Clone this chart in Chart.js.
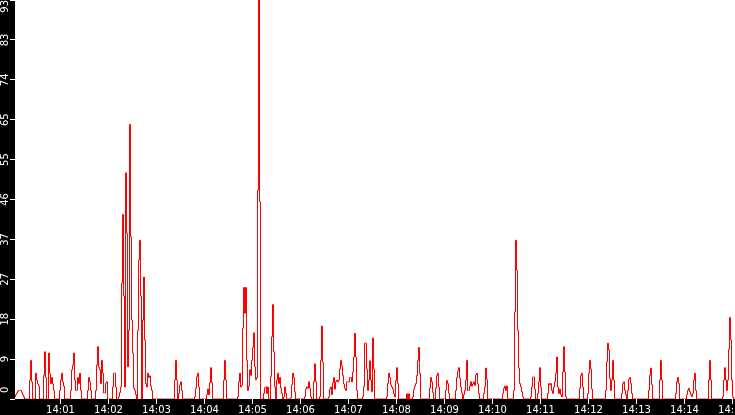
<!DOCTYPE html>
<html>
<head>
<meta charset="utf-8">
<script src="https://cdn.jsdelivr.net/npm/chart.js@4.4.1/dist/chart.umd.min.js"></script>
<style>
  html, body { margin: 0; padding: 0; background: #000; }
  canvas { display: block; }
</style>
</head>
<body>
<canvas id="grafica" width="735" height="415"></canvas>
<script>
// valores por minuto (una muestra cada 1.25 s)
var m00 = [0, 0, 0.5, 1, 1.4, 1.8, 2, 2, 2, 1.5,
           1, 0.5, 0, 0, 0, 0, 0, 4.4, 9, 4,
           0, 0, 0, 6, 4.4, 3.5, 3, 0, 0, 0,
           0, 5.5, 11, 5, 0, 0, 10.7, 6, 3.6, 5,
           3.5, 2, 0, 0, 0, 0, 0, 2];
var m01 = [4.4, 6, 4, 3, 0, 0, 0, 0, 0, 0,
           2, 6.8, 7.9, 10.7, 4.4, 2, 2, 5, 3.6, 6,
           2, 0, 0, 0, 0, 0, 0, 2, 5, 4,
           2, 0, 0, 0, 0, 2, 7.9, 12.2, 7.4, 6.8,
           3.6, 9, 6, 1.4, 1.4, 3.7, 4, 0];
var m02 = [0, 0, 0, 0, 2.8, 6, 6, 2.8, 0, 0,
           0.5, 1.5, 2.8, 27, 43, 24, 2.8, 52.7, 38.7, 7.5,
           16, 64, 37.8, 18.4, 10.7, 2.5, 2, 1, 0, 16,
           32.4, 37, 24, 0, 18.4, 28.4, 13.7, 3.6, 2.8, 6,
           5, 5.4, 3, 2, 0, 0, 0, 0];
var m03 = [0, 0, 0, 0, 0, 0, 0, 0, 0, 0,
           0, 0, 0, 0, 0, 0, 0, 0, 4.4, 9,
           4.4, 0, 1.3, 3.3, 4, 2, 0, 0, 0, 0,
           0, 0, 0, 0, 0, 0, 0, 0, 0.5, 2.5,
           5.2, 6, 2.8, 0, 0, 0, 0, 0];
var m04 = [0, 0, 1, 2.3, 1, 3.8, 7.3, 3.8, 0, 0,
           0, 0, 0, 0, 0, 0, 0, 0, 0, 4.4,
           9, 4.4, 0, 0, 0, 0, 0, 0, 0, 0,
           0, 0, 0, 0.5, 4, 6, 2.8, 3.2, 16.5, 26,
           20, 26, 9, 2, 3, 6.8, 5.5, 9];
var m05 = [12, 15.4, 7.5, 4.5, 5, 48.7, 93, 46, 0, 0,
           0, 1.3, 2.6, 2.8, 1.3, 2.8, 0, 0, 5.2, 14.5,
           22, 11, 2.8, 0, 4.4, 6, 3.6, 5, 2.6, 1.3,
           0, 0.5, 2.8, 1.3, 0, 0, 0, 0, 0.3, 3.3,
           6, 5, 1.7, 0, 0, 0, 0, 0];
var m06 = [0, 0, 0, 0, 0.5, 2.3, 2.8, 2.5, 4, 2.5,
           0.5, 0, 0, 4, 8.2, 4, 0, 0, 0, 0.5,
           9, 17, 8.5, 0, 0, 0, 0, 0, 0.5, 2.3,
           2.8, 1, 3.8, 5, 2.3, 4, 4.4, 4, 4.4, 7,
           9, 7.7, 5.5, 3.5, 2.5, 2, 4, 4];
var m07 = [4, 5, 5, 4, 6.3, 9.8, 15.3, 9.8, 2, 0,
           0, 0, 0, 0, 0.5, 2.8, 13, 13, 7, 2,
           4.4, 8.9, 4.4, 1.7, 14.2, 7, 0, 0, 0, 0,
           0, 0, 0, 0, 0, 0, 0, 0, 0.5, 3.6,
           6, 5, 3.3, 2.8, 2.3, 1.2, 0.5, 4.3];
var m08 = [7.3, 3.6, 0, 0, 0, 0, 0, 0, 0, 0,
           1.2, 0, 1.2, 0, 0, 0, 0.5, 2.3, 3, 3.6,
           5.5, 9, 12, 6, 0, 0, 0, 0, 0, 0,
           0, 0, 0, 2.5, 5, 4, 1.5, 0, 0, 2.5,
           5.5, 6, 2.8, 0, 0, 0, 0, 0];
var m09 = [0, 2, 4.3, 3.6, 1.3, 0, 0, 0, 0, 0,
           0, 2, 5, 6.5, 7.3, 4.8, 2.8, 1.4, 0, 1,
           2, 4.4, 9, 2, 2, 3, 4, 3, 3.5, 4,
           3.2, 5.6, 6, 3.5, 1.3, 0, 0, 0, 0, 1.3,
           2.8, 7.2, 4.6, 0, 0, 0, 0, 0];
var m10 = [0, 0, 0, 0, 0, 0, 0, 0, 0, 0,
           1.3, 2.5, 3, 2, 3, 0, 0, 0, 0, 0,
           0, 2, 20.3, 37, 30, 16, 7.2, 3.6, 2.8, 1.7,
           0.5, 0, 0, 0, 0, 0, 0, 0, 0.5, 2.8,
           5.1, 5.1, 2.3, 0, 0, 1.3, 4, 7.3];
var m11 = [2.8, 0, 0, 0, 0, 0, 0, 1.3, 3.6, 3.3,
           3.6, 2, 1.3, 2.8, 4, 6, 9.8, 2.8, 1.3, 2.3,
           1, 0.5, 6.3, 12.2, 6.3, 0.5, 0, 0, 0, 0,
           0, 0, 0, 0, 0, 0, 0, 0, 0, 2.5,
           5.5, 6, 2.8, 0, 0, 0, 0, 1.3];
var m12 = [6, 9, 7, 2.3, 0, 0, 0, 0, 0, 0,
           0, 0, 0, 0, 0, 0, 0, 2, 8.7, 13,
           11.4, 4.8, 2, 4.4, 9, 4.4, 0, 0, 0, 0,
           0, 0, 0, 1.3, 3.6, 4, 2, 1, 0, 2,
           4.6, 5, 3.6, 1.3, 0, 0, 0, 0];
var m13 = [0, 0, 0, 0, 0, 0, 0, 0, 0, 0,
           0, 0, 2, 5.5, 7.2, 3.3, 0, 0, 0, 0,
           0, 0, 0, 4.4, 9, 4.4, 0, 0, 0, 0,
           0, 0, 0, 0, 0, 0, 0, 0, 0, 1.3,
           4, 5, 3.6, 0, 0, 0, 0, 0];
var m14 = [0, 0, 1, 2, 2.5, 1.7, 1, 0.6, 1.3, 4.4,
           6, 2, 0, 0, 0, 0, 0, 0, 0, 0,
           0, 0, 0, 0, 4.4, 9, 4.4, 0, 0, 0,
           0, 0, 0, 0, 0, 0, 0, 0, 0.5, 4.4,
           7.3, 4.4, 2, 4.4, 11.6, 19, 13.8, 4.4];
var m15 = [0.5, 0, 0];

var pasoSegundos = 1.25;   // segundos entre muestras, desde las 14:00:00

var xTickSeconds = [60, 120, 180, 240, 300, 360, 420, 480, 540, 600, 660, 720, 780, 840, 900];
var xTickLabels = ['14:01', '14:02', '14:03', '14:04', '14:05', '14:06', '14:07', '14:08',
                   '14:09', '14:10', '14:11', '14:12', '14:13', '14:14', '14:15'];
var yTickValues = [0, 9.3, 18.6, 27.9, 37.2, 46.5, 55.8, 65.1, 74.4, 83.7, 93];
var yTickLabels = ['0', '9', '18', '27', '37', '46', '55', '65', '74', '83', '93'];

var valores = [].concat(m00, m01, m02, m03, m04, m05, m06, m07, m08, m09, m10, m11, m12, m13, m14, m15);
var puntos = valores.map(function(v, i) { return { x: i * pasoSegundos, y: v }; });

// fondo negro y area blanca, etiquetas verticales del eje y
var fondo = {
    id: 'fondo',
    beforeDraw: function(chart) {
        var ctx = chart.ctx, a = chart.chartArea;
        ctx.save();
        ctx.fillStyle = '#000';
        ctx.fillRect(0, 0, chart.width, chart.height);
        ctx.fillStyle = '#fff';
        ctx.fillRect(a.left, a.top, a.right - a.left, a.bottom - a.top);
        ctx.restore();
    },
    afterDraw: function(chart) {
        var ctx = chart.ctx, ejeY = chart.scales.y, a = chart.chartArea;
        ctx.save();
        ctx.font = '10px "DejaVu Sans"';
        ctx.fillStyle = '#fff';
        ctx.textAlign = 'center';
        ctx.textBaseline = 'middle';
        ejeY.ticks.forEach(function(t, i) {
            var texto = yTickLabels[i];
            var w = ctx.measureText(texto).width;
            var py = ejeY.getPixelForValue(t.value);
            py = Math.max(w / 2, Math.min(py, a.bottom - 6 - w / 2));
            ctx.save();
            ctx.translate(5.5, py);
            ctx.rotate(-Math.PI / 2);
            ctx.fillText(texto, 0, 0);
            ctx.restore();
        });
        ctx.restore();
    }
};

var grafica = new Chart(document.getElementById('grafica').getContext('2d'), {
    type: 'line',
    data: {
        datasets: [{
            data: puntos,
            borderColor: '#ff0000',
            borderWidth: 1,
            pointRadius: 0,
            fill: false,
            stepped: true
        }]
    },
    options: {
        responsive: false,
        animation: false,
        devicePixelRatio: 1,
        events: [],
        layout: { padding: 0 },
        scales: {
            x: {
                type: 'linear',
                min: 3.125,
                max: 903.125,
                afterBuildTicks: function(s) {
                    s.ticks = xTickSeconds.map(function(v) { return { value: v }; });
                },
                afterFit: function(s) {
                    s.height = 16;
                    s.paddingLeft = 0;
                    s.paddingRight = 0;
                },
                grid: { drawOnChartArea: false, drawTicks: true, tickLength: 5, color: '#fff', tickWidth: 1 },
                border: { display: false },
                ticks: {
                    color: '#fff',
                    font: { family: 'DejaVu Sans', size: 10 },
                    padding: 0,
                    maxRotation: 0,
                    minRotation: 0,
                    autoSkip: false,
                    callback: function(v, i) { return xTickLabels[i]; }
                }
            },
            y: {
                type: 'linear',
                min: 0,
                max: 93,
                afterBuildTicks: function(s) {
                    s.ticks = yTickValues.map(function(v) { return { value: v }; });
                },
                afterFit: function(s) {
                    s.width = 15;
                    s.paddingTop = 0;
                    s.paddingBottom = 0;
                },
                grid: { drawOnChartArea: false, drawTicks: true, tickLength: 5, color: '#fff', tickWidth: 1 },
                border: { display: false },
                ticks: { display: false }
            }
        },
        plugins: {
            legend: { display: false },
            tooltip: { enabled: false }
        }
    },
    plugins: [fondo]
});
</script>
</body>
</html>
